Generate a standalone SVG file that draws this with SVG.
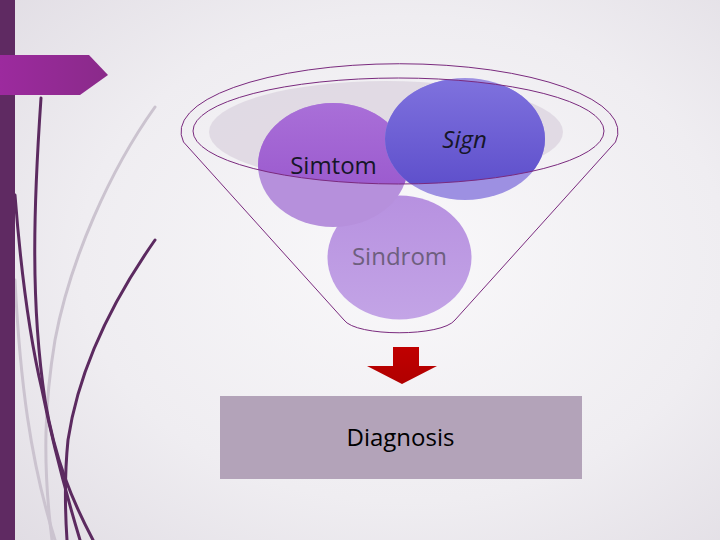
<svg xmlns="http://www.w3.org/2000/svg" width="720" height="540" viewBox="0 0 720 540">
<defs>
<radialGradient id="bg" cx="0.56" cy="0.48" r="0.75">
<stop offset="0" stop-color="#f9f8fa"/>
<stop offset="0.6" stop-color="#efedf1"/>
<stop offset="1" stop-color="#e1dde4"/>
</radialGradient>
<linearGradient id="tab" x1="0" y1="0" x2="1" y2="0">
<stop offset="0" stop-color="#9c2a9e"/>
<stop offset="1" stop-color="#8a2a8a"/>
</linearGradient>
<linearGradient id="simUp" x1="0" y1="0" x2="0" y2="1">
<stop offset="0" stop-color="#a96fd8"/>
<stop offset="1" stop-color="#9551ca"/>
</linearGradient>
<linearGradient id="signUp" x1="0" y1="0" x2="0" y2="1">
<stop offset="0" stop-color="#7f72de"/>
<stop offset="1" stop-color="#5a4bc9"/>
</linearGradient>
<linearGradient id="sinG" x1="0" y1="0" x2="0" y2="1">
<stop offset="0" stop-color="#b791e0"/>
<stop offset="1" stop-color="#c3a4e6"/>
</linearGradient>
<linearGradient id="arr" x1="0" y1="0" x2="0" y2="1">
<stop offset="0" stop-color="#c00000"/>
<stop offset="1" stop-color="#b00000"/>
</linearGradient>
<clipPath id="rim"><ellipse cx="398.5" cy="131" rx="205.5" ry="53"/></clipPath>
<style>
.dk{fill:none;stroke:#5c2a60;stroke-width:3;stroke-linecap:round}
.lt{fill:none;stroke:#cbc3cf;stroke-width:3;stroke-linecap:round}
.ol{fill:none;stroke:#7a2a7e;stroke-width:1}
.t{font-family:"Open Sans","Liberation Sans",sans-serif;font-size:24px;text-anchor:middle}
</style>
</defs>
<rect width="720" height="540" fill="url(#bg)"/>
<g id="decor">
<path class="lt" d="M155,107 C110,170 70,260 55,340 C45,400 42,460 52,540"/>
<path class="lt" d="M15,280 C20,380 30,460 55,540"/>
<path class="dk" d="M41,98 C34,200 30,300 45,400 C55,460 72,500 93,540"/>
<path class="dk" d="M15,195 C20,260 28,330 42,390 C52,440 65,490 80,540"/>
<path class="dk" d="M155,240 C120,290 80,360 68,440 C64,480 65,510 67,540"/>
<rect x="0" y="0" width="15" height="540" fill="#5f2a62"/>
<path d="M0,55 L89,55 L108,75 L80,95 L0,95 Z" fill="url(#tab)"/>
</g>
<g id="funnel-bg">
<ellipse cx="386" cy="132" rx="177" ry="51" fill="#dcd4e0" opacity="0.8"/>
</g>
<g id="sindrom">
<ellipse cx="399.5" cy="257.5" rx="72" ry="62" fill="url(#sinG)"/>
<text class="t" x="399.5" y="265" fill="#6e5f7e">Sindrom</text>
</g>
<g id="simtom">
<ellipse cx="333" cy="165" rx="75" ry="62" fill="#b690dc"/>
<ellipse cx="333" cy="165" rx="75" ry="62" fill="url(#simUp)" clip-path="url(#rim)"/>
<text class="t" x="333.5" y="174" fill="#161628">Simtom</text>
</g>
<g id="sign">
<ellipse cx="465" cy="139" rx="80" ry="61" fill="#9d90e2"/>
<ellipse cx="465" cy="139" rx="80" ry="61" fill="url(#signUp)" clip-path="url(#rim)"/>
<text class="t" x="464.5" y="148" fill="#161628" font-style="italic">Sign</text>
</g>
<g id="funnel-outline">
<path class="ol" d="M183.5,142 A218.5,68 0 1 1 615.5,142 L455,320 C442,337 356,337 344,320 Z"/>
<ellipse class="ol" cx="398.5" cy="131" rx="205.5" ry="53"/>
</g>
<g id="connectors">
<path d="M393,347 L419,347 L419,366 L437,366 L402,384 L367,366 L393,366 Z" fill="url(#arr)"/>
</g>
<g id="diagnosis">
<rect x="220" y="396" width="362" height="83" fill="#b3a3b9"/>
<text class="t" x="400.5" y="446" fill="#000">Diagnosis</text>
</g>
</svg>
